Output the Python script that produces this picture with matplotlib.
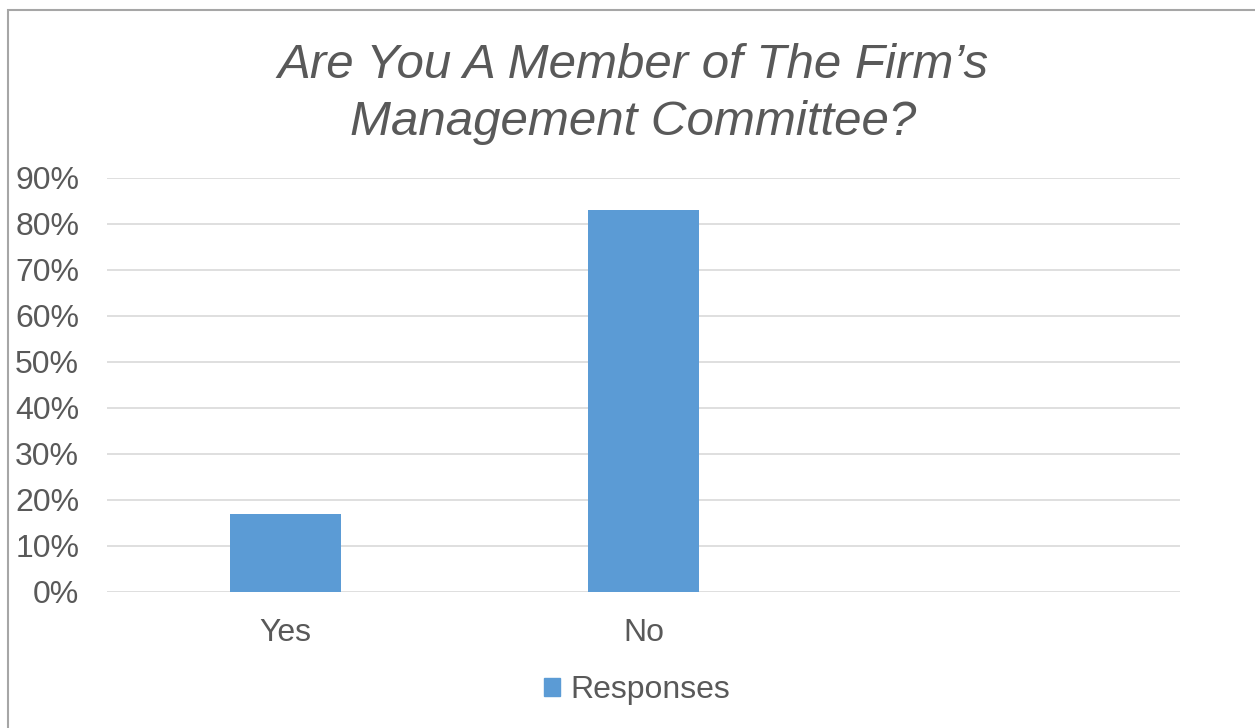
import matplotlib.pyplot as plt
from matplotlib.patches import Patch, Rectangle
from matplotlib.ticker import PercentFormatter

plt.rcParams['font.family'] = ['Liberation Sans', 'DejaVu Sans']

categories = ['Yes', 'No', '']
responses = [0.17, 0.83, 0.0]
y_ticks = [0, 0.1, 0.2, 0.3, 0.4, 0.5, 0.6, 0.7, 0.8, 0.9]

bar_color = '#5B9BD5'
text_color = '#595959'
grid_color = '#D9D9D9'

fig = plt.figure(figsize=(12.55, 7.28), dpi=100)
ax = fig.add_axes([107 / 1255, 136.3 / 728, (1180 - 107) / 1255, (591.7 - 178) / 728])

# chart area border (right/bottom edges fall outside the image)
fig.patches.append(Rectangle((8 / 1255, -0.1), 1.2, (718 + 73) / 728,
                             transform=fig.transFigure, fill=False,
                             edgecolor='#A6A6A6', linewidth=1.5))

x = range(len(categories))
ax.bar(x, responses, width=0.31, color=bar_color, zorder=3)

ax.set_xlim(-0.5, len(categories) - 0.5)
ax.set_ylim(0, 0.9)
ax.set_yticks(y_ticks)
ax.yaxis.set_major_formatter(PercentFormatter(1.0, decimals=0))
ax.set_xticks(list(x))
ax.set_xticklabels(categories)

ax.tick_params(axis='both', length=0, labelsize=23, labelcolor=text_color)
ax.tick_params(axis='y', pad=20)
ax.tick_params(axis='x', pad=19)
ax.grid(axis='y', color=grid_color, linewidth=1.2, zorder=0)
for s in ax.spines.values():
    s.set_visible(False)

fig.text(633 / 1255, (728 - 94) / 728,
         "Are You A Member of The Firm\u2019s\nManagement Committee?",
         ha='center', va='center', fontsize=35.5, style='italic',
         color=text_color, linespacing=1.32)

fig.legend(handles=[Patch(color=bar_color, label='Responses')],
           loc='center', bbox_to_anchor=(637 / 1255, 38 / 728),
           frameon=False, fontsize=23, labelcolor=text_color,
           handlelength=0.5, handleheight=0.5, handletextpad=0.35)

fig.savefig('out.png', dpi=100, facecolor='white')
